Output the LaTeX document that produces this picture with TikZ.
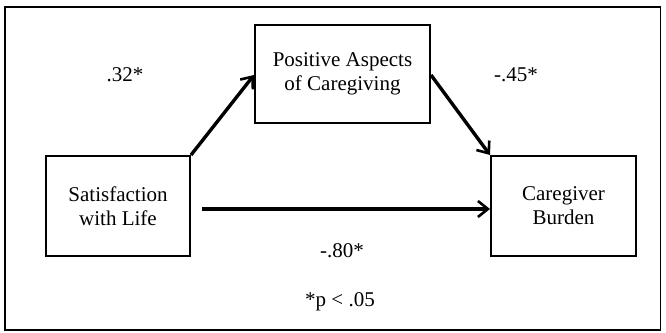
\documentclass[tikz,border=0pt]{standalone}
\usepackage{fontspec}
\setmainfont{Liberation Serif}
\usetikzlibrary{arrows.meta}
\begin{document}
\begin{tikzpicture}[x=1pt,y=1pt,
  varbox/.style={draw=black,line width=2pt,minimum width=#1,align=center,
    font=\fontsize{21}{24}\selectfont,inner sep=0pt},
  conn/.style={line width=3.4pt,-{Straight Barb[length=10pt,width=16pt,line width=2.6pt]}},
  lbl/.style={font=\fontsize{21}{24}\selectfont,inner sep=0pt}]
\useasboundingbox (0,0) rectangle (666,332);
\draw[line width=1.4pt] (5,2) rectangle (660.5,325);
\node[varbox=144pt,minimum height=100pt] (sat) at (118,126) {Satisfaction\\with Life};
\node[varbox=175pt,minimum height=98pt] (pac) at (342.5,258) {Positive Aspects\\of Caregiving};
\node[varbox=145pt,minimum height=100pt] (cb) at (563.5,126) {Caregiver\\Burden};
\draw[conn] (sat.north east) -- ([yshift=-1pt]pac.west);
\draw[conn] ([yshift=-1pt]pac.east) -- (cb.north west);
\draw[conn] ([xshift=11pt,yshift=-3pt]sat.east) -- ([yshift=-3pt]cb.west);
\node[lbl] (a) at (125,257) {.32*};
\node[lbl] (b) at (516,257) {-.45*};
\node[lbl] (c) at (342,81) {-.80*};
\node[lbl] (p) at (340,30) {*p < .05};
\end{tikzpicture}
\end{document}
